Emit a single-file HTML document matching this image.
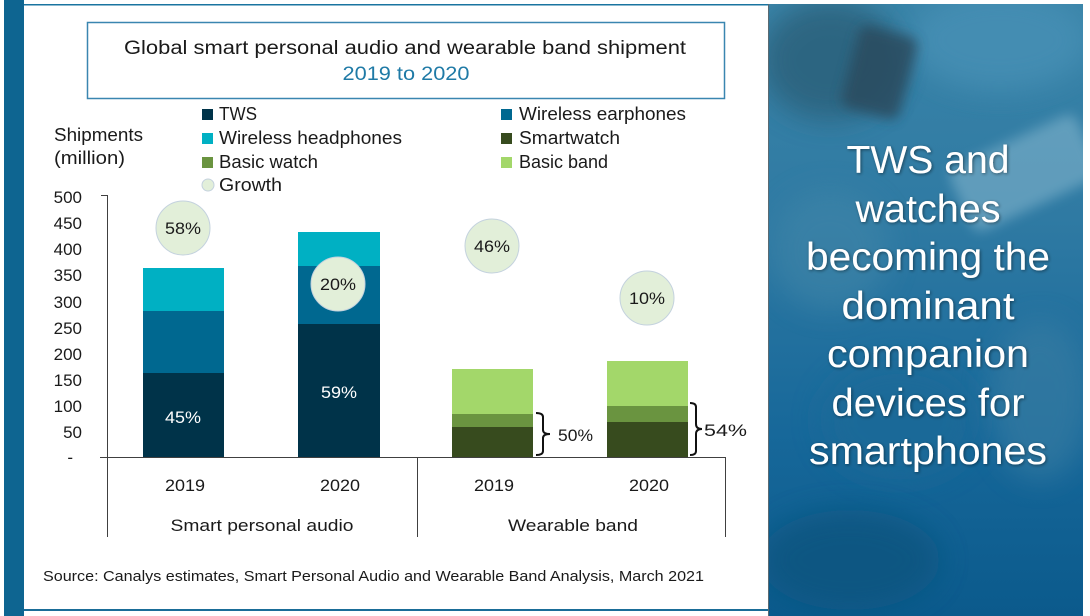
<!DOCTYPE html>
<html><head><meta charset="utf-8"><style>
html,body{margin:0;padding:0;background:#fff;}
svg{display:block;}
text{font-family:"Liberation Sans",sans-serif;}
</style></head><body>
<svg width="1090" height="616" viewBox="0 0 1090 616" xmlns="http://www.w3.org/2000/svg">
<defs>
<linearGradient id="bg" x1="0" y1="0" x2="0" y2="1">
<stop offset="0" stop-color="#3a84a8"/>
<stop offset="0.35" stop-color="#2f7aa3"/>
<stop offset="0.7" stop-color="#17689a"/>
<stop offset="1" stop-color="#0b5a8c"/>
</linearGradient>
<filter id="blur" x="-50%" y="-50%" width="200%" height="200%"><feGaussianBlur stdDeviation="14"/></filter>
<filter id="blur2" x="-50%" y="-50%" width="200%" height="200%"><feGaussianBlur stdDeviation="6"/></filter>
<filter id="sh" x="-10%" y="-10%" width="120%" height="120%"><feDropShadow dx="1" dy="1" stdDeviation="1.5" flood-color="#000" flood-opacity="0.45"/></filter>
<clipPath id="rp"><rect x="768" y="4" width="315" height="612"/></clipPath>
</defs>

<!-- left frame -->
<rect x="4" y="0" width="20" height="616" fill="#0e6591"/>
<rect x="24" y="4" width="744" height="1.5" fill="#1a74a0"/>
<rect x="24" y="609" width="744" height="2" fill="#1a6d98"/>

<!-- right photo panel -->
<g clip-path="url(#rp)">
<rect x="768" y="4" width="315" height="612" fill="url(#bg)"/>
<ellipse cx="830" cy="60" rx="70" ry="60" fill="#2a5f78" filter="url(#blur)" opacity="0.8"/>
<ellipse cx="1000" cy="40" rx="90" ry="50" fill="#4790b5" filter="url(#blur)" opacity="0.8"/>
<rect x="850" y="30" width="60" height="85" rx="10" fill="#2c4b5e" filter="url(#blur2)" opacity="0.85" transform="rotate(15 880 70)"/>
<rect x="955" y="140" width="140" height="70" rx="10" fill="#8fbdd3" filter="url(#blur2)" opacity="0.5" transform="rotate(-25 1020 175)"/>
<ellipse cx="830" cy="250" rx="60" ry="60" fill="#3f85a8" filter="url(#blur)" opacity="0.6"/>
<ellipse cx="900" cy="420" rx="80" ry="60" fill="#1e6b98" filter="url(#blur)" opacity="0.7"/>
<ellipse cx="1040" cy="400" rx="50" ry="80" fill="#3b7ea3" filter="url(#blur)" opacity="0.6"/>
<ellipse cx="850" cy="560" rx="90" ry="50" fill="#0b557f" filter="url(#blur)" opacity="0.8"/>
<rect x="768" y="4" width="1" height="612" fill="#5a6a72"/>
</g>
<g fill="#fff" font-size="39" text-anchor="middle" filter="url(#sh)">
<text x="928" y="173" textLength="163" lengthAdjust="spacingAndGlyphs">TWS and</text>
<text x="928" y="222" textLength="145" lengthAdjust="spacingAndGlyphs">watches</text>
<text x="928" y="270" textLength="244" lengthAdjust="spacingAndGlyphs">becoming the</text>
<text x="928" y="319" textLength="173" lengthAdjust="spacingAndGlyphs">dominant</text>
<text x="928" y="367" textLength="202" lengthAdjust="spacingAndGlyphs">companion</text>
<text x="928" y="416" textLength="193" lengthAdjust="spacingAndGlyphs">devices for</text>
<text x="928" y="464" textLength="238" lengthAdjust="spacingAndGlyphs">smartphones</text>
</g>

<!-- title box -->
<rect x="87.5" y="22.5" width="637" height="76" fill="#fff" stroke="#3a86b0" stroke-width="1.5"/>
<text x="405" y="54" font-size="19" fill="#1a1a1a" text-anchor="middle" textLength="562" lengthAdjust="spacingAndGlyphs">Global smart personal audio and wearable band shipment</text>
<text x="406" y="80" font-size="19" fill="#1f7aa6" text-anchor="middle" textLength="127" lengthAdjust="spacingAndGlyphs">2019 to 2020</text>

<!-- legend -->
<g font-size="18" fill="#1a1a1a">
<rect x="202" y="109" width="11" height="11" fill="#003349"/>
<text x="219" y="120" textLength="38" lengthAdjust="spacingAndGlyphs">TWS</text>
<rect x="202" y="133" width="11" height="11" fill="#00b0c3"/>
<text x="219" y="144" textLength="183" lengthAdjust="spacingAndGlyphs">Wireless headphones</text>
<rect x="202" y="157" width="11" height="11" fill="#6a9440"/>
<text x="219" y="168" textLength="99" lengthAdjust="spacingAndGlyphs">Basic watch</text>
<circle cx="208" cy="185" r="6" fill="#e2efd9" stroke="#c4d2de" stroke-width="1"/>
<text x="219" y="191" textLength="63" lengthAdjust="spacingAndGlyphs">Growth</text>
<rect x="501" y="109" width="11" height="11" fill="#006890"/>
<text x="519" y="120" textLength="167" lengthAdjust="spacingAndGlyphs">Wireless earphones</text>
<rect x="501" y="133" width="11" height="11" fill="#374b1e"/>
<text x="519" y="144" textLength="101" lengthAdjust="spacingAndGlyphs">Smartwatch</text>
<rect x="501" y="157" width="11" height="11" fill="#a3d76a"/>
<text x="519" y="168" textLength="89" lengthAdjust="spacingAndGlyphs">Basic band</text>
</g>

<!-- y axis title -->
<text x="54" y="141" font-size="18" fill="#1a1a1a" textLength="89" lengthAdjust="spacingAndGlyphs">Shipments</text>
<text x="54" y="164" font-size="18" fill="#1a1a1a" textLength="71" lengthAdjust="spacingAndGlyphs">(million)</text>

<!-- y labels -->
<g font-size="17" fill="#1a1a1a" text-anchor="end">
<text x="82" y="203">500</text>
<text x="82" y="229">450</text>
<text x="82" y="255">400</text>
<text x="82" y="281">350</text>
<text x="82" y="308">300</text>
<text x="82" y="334">250</text>
<text x="82" y="360">200</text>
<text x="82" y="386">150</text>
<text x="82" y="412">100</text>
<text x="82" y="438">50</text>
<text x="73" y="463">-</text>
</g>

<!-- bars -->
<rect x="143" y="373" width="81" height="84" fill="#003349"/>
<rect x="143" y="311" width="81" height="62" fill="#006890"/>
<rect x="143" y="268" width="81" height="43" fill="#00b0c3"/>

<rect x="298" y="324" width="82" height="133" fill="#003349"/>
<rect x="298" y="266" width="82" height="58" fill="#006890"/>
<rect x="298" y="232" width="82" height="34" fill="#00b0c3"/>

<rect x="452" y="427" width="81" height="30" fill="#374b1e"/>
<rect x="452" y="414" width="81" height="13" fill="#6a9440"/>
<rect x="452" y="369" width="81" height="45" fill="#a3d76a"/>

<rect x="607" y="422" width="81" height="35" fill="#374b1e"/>
<rect x="607" y="406" width="81" height="16" fill="#6a9440"/>
<rect x="607" y="361" width="81" height="45" fill="#a3d76a"/>

<!-- in-bar labels -->
<text x="183" y="423" font-size="17" fill="#fff" text-anchor="middle" textLength="36" lengthAdjust="spacingAndGlyphs">45%</text>
<text x="339" y="398" font-size="17" fill="#fff" text-anchor="middle" textLength="36" lengthAdjust="spacingAndGlyphs">59%</text>

<!-- axes -->
<g stroke="#404040" stroke-width="1" fill="none">
<line x1="107.5" y1="195" x2="107.5" y2="537"/>
<line x1="101" y1="195.5" x2="107.5" y2="195.5"/>
<line x1="100" y1="457.5" x2="725" y2="457.5"/>
<line x1="417.5" y1="457" x2="417.5" y2="537"/>
<line x1="725.5" y1="457" x2="725.5" y2="537"/>
</g>

<!-- growth circles -->
<g fill="#e2efd9" stroke="#c4d2de" stroke-width="1">
<circle cx="183" cy="228" r="27"/>
<circle cx="338" cy="284" r="27"/>
<circle cx="492" cy="246" r="27"/>
<circle cx="647" cy="298" r="27"/>
</g>
<g font-size="17" fill="#1a1a1a" text-anchor="middle">
<text x="183" y="234" textLength="36" lengthAdjust="spacingAndGlyphs">58%</text>
<text x="338" y="290" textLength="36" lengthAdjust="spacingAndGlyphs">20%</text>
<text x="492" y="252" textLength="36" lengthAdjust="spacingAndGlyphs">46%</text>
<text x="647" y="304" textLength="36" lengthAdjust="spacingAndGlyphs">10%</text>
</g>

<!-- brackets -->
<g stroke="#111" stroke-width="2" fill="none">
<path d="M536 413 Q543 413 543 417 L543 430 Q543 434 550 434 Q543 434 543 438 L543 451 Q543 455 536 455"/>
<path d="M690 403 Q696 403 696 407 L696 424 Q696 429 702 429 Q696 429 696 434 L696 451 Q696 455 690 455"/>
</g>
<text x="558" y="441" font-size="17" fill="#1a1a1a" textLength="35" lengthAdjust="spacingAndGlyphs">50%</text>
<text x="704" y="436" font-size="17" fill="#1a1a1a" textLength="43" lengthAdjust="spacingAndGlyphs">54%</text>

<!-- x labels -->
<g font-size="17" fill="#1a1a1a" text-anchor="middle">
<text x="185" y="491" textLength="40" lengthAdjust="spacingAndGlyphs">2019</text>
<text x="340" y="491" textLength="40" lengthAdjust="spacingAndGlyphs">2020</text>
<text x="494" y="491" textLength="40" lengthAdjust="spacingAndGlyphs">2019</text>
<text x="649" y="491" textLength="40" lengthAdjust="spacingAndGlyphs">2020</text>
<text x="262" y="531" textLength="183" lengthAdjust="spacingAndGlyphs">Smart personal audio</text>
<text x="573" y="531" textLength="130" lengthAdjust="spacingAndGlyphs">Wearable band</text>
</g>

<!-- source -->
<text x="43" y="581" font-size="15" fill="#1a1a1a" textLength="661" lengthAdjust="spacingAndGlyphs">Source: Canalys estimates, Smart Personal Audio and Wearable Band Analysis, March 2021</text>
</svg>
</body></html>
